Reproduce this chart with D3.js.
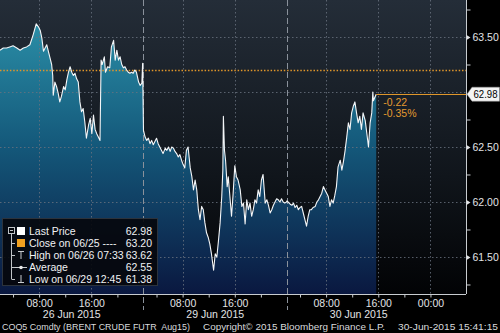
<!DOCTYPE html>
<html><head><meta charset="utf-8">
<script src="https://cdn.jsdelivr.net/npm/d3@7"></script>
<style>html,body{margin:0;padding:0;background:#000;overflow:hidden} text{white-space:pre}</style>
</head><body><svg id="c" width="500" height="333"></svg>
<script>
// ---------- data ----------
const days = ["26 Jun 2015", "29 Jun 2015", "30 Jun 2015"];
const jun26 = [
["02:00",63.38],["02:30",63.40],["03:00",63.40],["03:30",63.41],["04:00",63.42],["04:35",63.40],
["05:05",63.38],["05:35",63.40],["06:05",63.41],["06:35",63.43],["07:05",63.52],["07:33",63.62],
["07:55",63.59],["08:10",63.56],["08:25",63.49],["08:40",63.37],["08:55",63.40],["09:10",63.43],
["09:25",63.37],["09:40",63.31],["09:55",63.25],["10:05",63.15],["10:10",62.97],["10:25",63.09],
["10:40",63.05],["10:55",62.99],["11:10",62.91],["11:25",62.96],["11:45",63.05],["12:00",63.02],
["12:15",63.11],["12:30",63.18],["12:45",63.23],["13:00",63.18],["13:15",63.15],["13:30",63.17],
["13:45",63.12],["14:00",63.09],["14:15",62.91],["14:30",62.82],["14:45",62.85],["15:00",62.73],
["15:15",62.58],["15:35",62.70],["15:50",62.76],["16:05",62.62],["16:20",62.79],["16:35",62.66],
["16:50",62.62],["17:05",62.59],["17:20",62.56],["17:30",63.29],["17:40",63.25],["18:00",63.32],
["18:10",63.18],["18:30",63.23],["18:50",63.22],["19:05",63.41],["19:25",63.47],["19:40",63.29],
["19:55",63.38],["20:10",63.29],["20:25",63.32],["20:40",63.25],["20:55",63.22],["21:10",63.23],
["21:25",63.20],["21:40",63.18],["21:55",63.17],["22:10",63.18],["22:25",63.17],["22:40",63.20],
["22:55",63.18],["23:15",63.09],["23:30",63.06],["23:45",63.08],["23:52",63.26]
];
const jun29 = [
["02:00",62.65],["02:15",62.59],["02:30",62.56],["02:45",62.58],["03:00",62.53],["03:15",62.56],
["03:30",62.52],["03:45",62.55],["04:00",62.58],["04:15",62.53],["04:30",62.50],["04:45",62.47],
["05:00",62.44],["05:20",62.49],["05:35",62.47],["05:50",62.50],["06:05",62.46],["06:20",62.50],
["06:35",62.49],["06:50",62.46],["07:05",62.44],["07:20",62.41],["07:35",62.43],["07:50",62.38],
["08:05",62.34],["08:20",62.31],["08:35",62.47],["08:50",62.50],["09:10",62.31],["09:25",62.23],
["09:40",62.11],["09:55",62.20],["10:10",62.11],["10:25",61.93],["10:40",61.84],["10:55",61.96],
["11:10",61.93],["11:25",61.81],["11:40",61.72],["11:55",61.68],["12:10",61.62],["12:25",61.53],
["12:45",61.38],["13:00",61.53],["13:15",61.50],["13:30",61.65],["13:45",61.81],["14:00",62.05],
["14:10",62.29],["14:15",62.78],["14:25",62.47],["14:35",62.38],["14:50",62.14],["15:00",62.23],
["15:15",62.05],["15:30",61.87],["15:45",62.08],["16:00",62.33],["16:15",62.23],["16:30",62.20],
["16:50",62.11],["17:05",61.96],["17:20",61.99],["17:35",61.80],["17:50",62.02],["18:05",61.93],
["18:20",61.99],["18:35",61.87],["18:50",61.93],["19:05",62.02],["19:20",61.99],["19:35",62.11],
["19:50",62.05],["20:05",62.20],["20:20",62.25],["20:40",61.99],["20:55",62.02],["21:10",61.97],
["21:25",61.90],["21:40",61.93],["21:55",61.97],["22:10",62.00],["22:25",62.03],["22:40",62.02],
["22:55",62.00],["23:10",62.03],["23:25",62.00],["23:40",61.99],["23:55",62.00]
];
const jun30 = [
["02:00",62.01],["02:10",62.00],["02:30",61.98],["02:45",61.97],["03:00",61.99],["03:15",61.95],
["03:30",61.97],["03:45",61.93],["04:00",61.95],["04:15",61.96],["04:30",61.90],["04:45",61.84],
["05:00",61.78],["05:15",61.87],["05:30",61.93],["05:45",61.93],["06:00",61.95],["06:20",61.96],
["06:35",62.00],["06:50",62.02],["07:05",62.05],["07:20",62.08],["07:35",62.14],["07:50",62.11],
["08:05",62.08],["08:20",62.05],["08:35",61.96],["08:50",62.02],["09:05",61.99],["09:20",62.06],
["09:35",62.14],["09:50",62.32],["10:10",62.38],["10:25",62.29],["10:40",62.37],["10:55",62.47],
["11:10",62.59],["11:25",62.72],["11:40",62.66],["11:55",62.81],["12:10",62.87],["12:25",62.91],
["12:40",62.81],["12:55",62.72],["13:10",62.78],["13:25",62.66],["13:40",62.81],["14:00",62.74],
["14:15",62.62],["14:30",62.50],["14:45",62.72],["15:00",62.81],["15:10",63.00],["15:15",62.92],
["15:41",62.98]
];
const lastPrice = 62.98;
const prevClose = 63.20;
const netChange = "-0.22";
const pctChange = "-0.35%";
const yTickValues = [63.5, 62.5, 62.0, 61.5];
const yMinorValues = [63.75, 63.25, 62.75, 62.25, 61.75, 61.25];
const yGridValues = [63.5, 63.0, 62.5, 62.0, 61.5];
const xMajorHours = ["08:00", "16:00"];
const xMinorHours = ["04:00", "12:00", "20:00"];
const xEndLabel = "00:00";
const legendLabels = ["Last Price", "Close on 06/25 ----", "High on 06/26 07:33", "Average", "Low on 06/29 12:45"];
const legendValues = ["62.98", "63.20", "63.62", "62.55", "61.38"];
const footerLeft = "COQ5 Comdty (BRENT CRUDE FUTR  Aug15)";
const footerMid = "Copyright\u00A9 2015 Bloomberg Finance L.P.";
const footerRight = "30-Jun-2015 15:41:15";

// ---------- helpers ----------
const sessionStart = 2, sessionLen = 22;
function hrs(t){ const [h,m] = t.split(":").map(Number); return h + m/60; }
function sess(dayIdx, t){ return dayIdx*sessionLen + hrs(t) - sessionStart; }
const series = [jun26, jun29, jun30].flatMap((d,i) => d.map(([t,v]) => ({s: sess(i,t), v})));

const W = 500, H = 333, PW = 466, PH = 294;
const svg = d3.select("#c");
const x = d3.scaleLinear().domain([0, 71.45]).range([0, PW]);
const y = d3.scaleLinear().domain([61.1636, 63.8364]).range([PH, 0]);
const font = "'Liberation Sans', Arial, sans-serif";

const defs = svg.append("defs");
const bg = defs.append("linearGradient").attr("id","bg").attr("x1",0).attr("x2",0).attr("y1",0).attr("y2",1);
bg.append("stop").attr("offset","0%").attr("stop-color","#242d38");
bg.append("stop").attr("offset","60%").attr("stop-color","#10151b");
bg.append("stop").attr("offset","100%").attr("stop-color","#020305");
const ag = defs.append("linearGradient").attr("id","ag").attr("gradientUnits","userSpaceOnUse")
  .attr("x1",0).attr("x2",0).attr("y1",25).attr("y2",PH);
ag.append("stop").attr("offset","0%").attr("stop-color","#2a8da6");
ag.append("stop").attr("offset","45%").attr("stop-color","#14587a");
ag.append("stop").attr("offset","100%").attr("stop-color","#0a1840");

svg.append("rect").attr("width",W).attr("height",H).attr("fill","#000");
svg.append("rect").attr("width",PW).attr("height",PH).attr("fill","url(#bg)");

// area
svg.append("path").datum(series)
  .attr("d", d3.area().x(d=>x(d.s)).y0(PH).y1(d=>y(d.v)))
  .attr("fill","url(#ag)");

// grid
const grid = svg.append("g");
grid.selectAll("line.h").data(yGridValues).join("line")
  .attr("x1",0).attr("x2",PW).attr("y1",d=>Math.round(y(d))+0.5).attr("y2",d=>Math.round(y(d))+0.5)
  .attr("stroke","#6a7380").attr("stroke-width",1).attr("stroke-dasharray","1.5,2.5").attr("opacity",0.8);
const vGrid = [];
days.forEach((d,i)=> xMajorHours.forEach(h => vGrid.push(sess(i,h))));
vGrid.push(sess(2,"24:00"));
grid.selectAll("line.v").data(vGrid).join("line")
  .attr("y1",0).attr("y2",PH).attr("x1",d=>Math.round(x(d))+0.5).attr("x2",d=>Math.round(x(d))+0.5)
  .attr("stroke","#6a7380").attr("stroke-width",1).attr("stroke-dasharray","1.5,2.5").attr("opacity",0.8);
const seps = [sessionLen, 2*sessionLen];
grid.selectAll("line.sep").data(seps).join("line")
  .attr("y1",0).attr("y2",PH+16).attr("x1",d=>Math.round(x(d))+0.5).attr("x2",d=>Math.round(x(d))+0.5)
  .attr("stroke","#8a919b").attr("stroke-width",1).attr("stroke-dasharray","6,3");

// close line
svg.append("line").attr("x1",0).attr("x2",PW).attr("y1",Math.round(y(prevClose))+0.5).attr("y2",Math.round(y(prevClose))+0.5)
  .attr("stroke","#e0962a").attr("stroke-width",1.3).attr("stroke-dasharray","1.5,1.8");

// price line
svg.append("path").datum(series)
  .attr("d", d3.line().x(d=>x(d.s)).y(d=>y(d.v)))
  .attr("fill","none").attr("stroke","#f4f6f8").attr("stroke-width",1.1).attr("stroke-linejoin","round");

// last price line + change
const lastS = series[series.length-1].s;
svg.append("line").attr("x1",x(lastS)).attr("x2",PW).attr("y1",Math.round(y(lastPrice))+0.5).attr("y2",Math.round(y(lastPrice))+0.5)
  .attr("stroke","#e0962a").attr("stroke-width",1.2);
svg.append("text").attr("x",x(lastS)+7).attr("y",y(lastPrice)+12).text(netChange)
  .attr("fill","#e39a30").attr("font-family",font).attr("font-size",10.5);
svg.append("text").attr("x",x(lastS)+7).attr("y",y(lastPrice)+23).text(pctChange)
  .attr("fill","#e39a30").attr("font-family",font).attr("font-size",10.5);

// right axis
const yAxis = d3.axisRight(y).tickValues(yTickValues).tickFormat(d3.format(".2f")).tickSize(0).tickPadding(6);
const ya = svg.append("g").attr("transform",`translate(${PW+0.5},0)`).call(yAxis);
ya.select(".domain").attr("stroke","#c8ccd0").attr("d",`M0,0V${PH}`);
ya.selectAll("text").attr("fill","#e2e4e6").attr("font-family",font).attr("font-size",10.5);
ya.selectAll(".tick").append("path").attr("d","M0,-2.5L4,0L0,2.5Z").attr("fill","#e2e4e6");
const yMinor = d3.axisRight(y).tickValues(yMinorValues).tickFormat("").tickSize(4);
const ym = svg.append("g").attr("transform",`translate(${PW+0.5},0)`).call(yMinor);
ym.select(".domain").remove();
ym.selectAll("line").attr("stroke","#c8ccd0");

// last price tag
const ly = y(lastPrice);
svg.append("path").attr("d",`M${PW+1},${ly}L${PW+6},${ly-7}H499.5V${ly+7}H${PW+6}Z`)
  .attr("fill","#f4f4f4").attr("stroke","#999").attr("stroke-width",0.5);
svg.append("text").attr("x",PW+7.5).attr("y",ly).attr("dy","0.36em").text(lastPrice.toFixed(2))
  .attr("fill","#000").attr("font-family",font).attr("font-size",10).attr("textLength",24).attr("lengthAdjust","spacingAndGlyphs");

// bottom axis
const xMaj = [], xMajLab = [];
days.forEach((d,i)=> xMajorHours.forEach(h => { xMaj.push(sess(i,h)); xMajLab.push(h); }));
xMaj.push(sess(2,"24:00")); xMajLab.push(xEndLabel);
const labMap = new Map(xMaj.map((v,i)=>[v, xMajLab[i]]));
const xAxis = d3.axisBottom(x).tickValues(xMaj).tickFormat(d=>labMap.get(d)).tickSize(3).tickPadding(2);
const xa = svg.append("g").attr("transform",`translate(0,${PH+0.5})`).call(xAxis);
xa.select(".domain").attr("stroke","#c8ccd0").attr("d",`M0,0H${PW}`);
xa.selectAll("line").attr("stroke","#c8ccd0");
xa.selectAll("text").attr("fill","#e2e4e6").attr("font-family",font).attr("font-size",10.5);
const xMin = [];
days.forEach((d,i)=> xMinorHours.forEach(h => xMin.push(sess(i,h))));
const xm = svg.append("g").attr("transform",`translate(0,${PH+0.5})`)
  .call(d3.axisBottom(x).tickValues(xMin).tickFormat("").tickSize(3));
xm.select(".domain").remove();
xm.selectAll("line").attr("stroke","#c8ccd0");
svg.append("g").selectAll("text").data(days).join("text")
  .attr("x",(d,i)=>x(i*sessionLen + sessionLen/2)).attr("y",318).attr("text-anchor","middle")
  .text(d=>d).attr("fill","#e2e4e6").attr("font-family",font).attr("font-size",10.5);

// footer
const ft = svg.append("g").attr("font-family",font).attr("font-size",9.8).attr("fill","#d8dadc");
ft.append("text").attr("x",2).attr("y",330).text(footerLeft).attr("textLength",188).attr("lengthAdjust","spacingAndGlyphs");
ft.append("text").attr("x",203).attr("y",330).text(footerMid).attr("textLength",182).attr("lengthAdjust","spacingAndGlyphs");
ft.append("text").attr("x",398).attr("y",330).text(footerRight).attr("textLength",100).attr("lengthAdjust","spacingAndGlyphs");

// legend
const lg = svg.append("g");
lg.append("rect").attr("x",2.5).attr("y",218.5).attr("width",155).attr("height",67)
  .attr("fill","#05070b").attr("fill-opacity",0.9).attr("stroke","#2c333c");
const rowY = i => 231 + i*12;
lg.append("line").attr("x1",11.5).attr("x2",11.5).attr("y1",rowY(0)).attr("y2",rowY(4)).attr("stroke","#c0c4c8");
lg.selectAll("line.b").data([1,2,3,4]).join("line")
  .attr("x1",11.5).attr("x2",15).attr("y1",i=>rowY(i)+0.5).attr("y2",i=>rowY(i)+0.5).attr("stroke","#c0c4c8");
lg.append("rect").attr("x",8.5).attr("y",rowY(0)-3.5).attr("width",6).attr("height",6).attr("fill","#05070b").attr("stroke","#c0c4c8");
lg.append("line").attr("x1",10).attr("x2",13).attr("y1",rowY(0)-0.5).attr("y2",rowY(0)-0.5).attr("stroke","#c0c4c8");
lg.append("rect").attr("x",17).attr("y",rowY(0)-4).attr("width",8).attr("height",8).attr("fill","#ffffff");
lg.append("rect").attr("x",17).attr("y",rowY(1)-4).attr("width",8).attr("height",8).attr("fill","#f0a020");
lg.append("path").attr("d",`M18,${rowY(2)-3.5}H24M21,${rowY(2)-3.5}V${rowY(2)+4}`).attr("stroke","#c8ccd0").attr("fill","none");
lg.append("path").attr("d",`M15,${rowY(3)+0.5}H27`).attr("stroke","#c8ccd0");
lg.append("circle").attr("cx",21).attr("cy",rowY(3)+0.5).attr("r",1.8).attr("fill","#e8e8e8");
lg.append("path").attr("d",`M18,${rowY(4)+3.5}H24M21,${rowY(4)+3.5}V${rowY(4)-4}`).attr("stroke","#c8ccd0").attr("fill","none");
lg.selectAll("text.l").data(legendLabels).join("text")
  .attr("x",29).attr("y",(d,i)=>rowY(i)).attr("dy","0.36em").text(d=>d)
  .attr("fill","#f0f2f4").attr("font-family",font).attr("font-size",10.5);
lg.selectAll("text.v").data(legendValues).join("text")
  .attr("x",152).attr("y",(d,i)=>rowY(i)).attr("dy","0.36em").attr("text-anchor","end").text(d=>d)
  .attr("fill","#f0f2f4").attr("font-family",font).attr("font-size",10.5);
</script></body></html>
